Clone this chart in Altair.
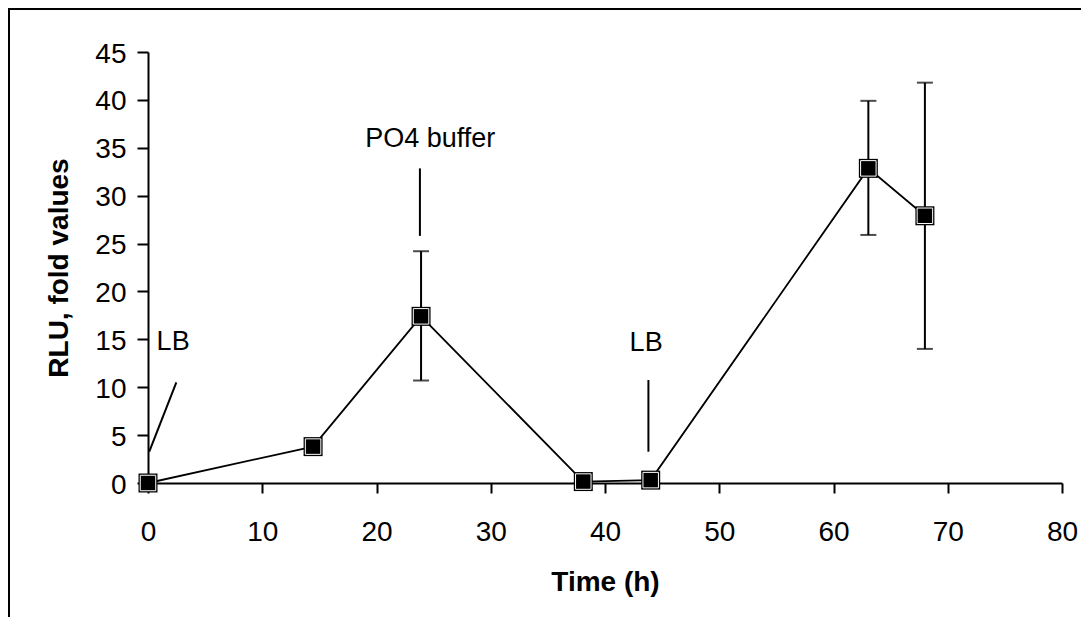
import altair as alt
import pandas as pd

# data
time_h = [0, 14.45, 23.9, 38.1, 44.0, 63.05, 68.0]
rlu = [0.0, 3.8, 17.4, 0.15, 0.3, 32.85, 27.9]
err_lo = [None, None, 10.7, None, None, 25.9, 14.0]
err_hi = [None, None, 24.2, None, None, 39.9, 41.8]

ann_text = ["LB", "PO4 buffer", "LB"]
ann_tx = [2.2, 24.7, 43.6]
ann_ty = [13.9, 35.1, 13.8]
ann_x1 = [2.48, 23.8, 43.8]
ann_y1 = [10.5, 32.85, 10.75]
ann_x2 = [0.11, 23.8, 43.8]
ann_y2 = [3.27, 25.8, 3.27]

x_ticks = list(range(0, 81, 10))
y_ticks = list(range(0, 46, 5))

W, H = 914, 431
FONT = "Liberation Sans"

df = pd.DataFrame({"t": time_h, "v": rlu})
df_err = pd.DataFrame({"t": time_h, "lo": err_lo, "hi": err_hi}).dropna()
df_ann = pd.DataFrame({"label": ann_text, "tx": ann_tx, "ty": ann_ty,
                       "x1": ann_x1, "y1": ann_y1, "x2": ann_x2, "y2": ann_y2})

xs = alt.Scale(domain=[0, 80], nice=False, zero=False)
ys = alt.Scale(domain=[0, 45], nice=False)

xaxis = alt.Axis(values=x_ticks, grid=False, title="Time (h)", labelFontSize=28,
                 labelFont=FONT, labelColor="black", labelPadding=47,
                 labelBaseline="alphabetic", labelFlush=False, labelOverlap=False,
                 tickSize=10, tickWidth=2,
                 tickColor="black", domainColor="black", domainWidth=2,
                 titleFont=FONT, titleFontSize=28, titleFontWeight="bold",
                 titleColor="black", titleX=W / 2, titleY=107,
                 titleBaseline="alphabetic", titleAlign="center")
yaxis = alt.Axis(values=y_ticks, grid=False, title="RLU, fold values", labelFontSize=28,
                 labelFont=FONT, labelColor="black", labelPadding=11,
                 labelFlush=False, labelOverlap=False, labelOffset=2,
                 tickSize=11, tickWidth=2, tickColor="black",
                 domainColor="black", domainWidth=2,
                 titleFont=FONT, titleFontSize=28, titleFontWeight="bold",
                 titleColor="black", titleX=-81, titleY=H / 2,
                 titleBaseline="alphabetic", titleAlign="center", titleAngle=270)

base = alt.Chart(df)

line = base.mark_line(color="black", strokeWidth=1.8).encode(
    x=alt.X("t:Q", scale=xs, axis=xaxis),
    y=alt.Y("v:Q", scale=ys, axis=yaxis),
)

err_rule = alt.Chart(df_err).mark_rule(color="black", strokeWidth=2).encode(
    x=alt.X("t:Q", scale=xs), y=alt.Y("lo:Q", scale=ys), y2="hi:Q")
cap_lo = alt.Chart(df_err).mark_tick(color="black", thickness=2, size=16,
                                     orient="horizontal").encode(
    x=alt.X("t:Q", scale=xs), y=alt.Y("lo:Q", scale=ys))
cap_hi = alt.Chart(df_err).mark_tick(color="black", thickness=2, size=16,
                                     orient="horizontal").encode(
    x=alt.X("t:Q", scale=xs), y=alt.Y("hi:Q", scale=ys))

pt_outer = base.mark_point(shape="square", filled=True, color="black",
                           size=361, opacity=1).encode(
    x=alt.X("t:Q", scale=xs), y=alt.Y("v:Q", scale=ys))
pt_inner = base.mark_point(shape="square", filled=True, fill="black",
                           stroke="white", strokeWidth=1, size=240,
                           opacity=1, strokeOpacity=1).encode(
    x=alt.X("t:Q", scale=xs), y=alt.Y("v:Q", scale=ys))

ann_rules = alt.Chart(df_ann).mark_rule(color="black", strokeWidth=2).encode(
    x=alt.X("x1:Q", scale=xs), y=alt.Y("y1:Q", scale=ys),
    x2="x2:Q", y2="y2:Q")
ann_labels = alt.Chart(df_ann).mark_text(font=FONT, fontSize=27, color="black",
                                         baseline="alphabetic", align="center").encode(
    x=alt.X("tx:Q", scale=xs), y=alt.Y("ty:Q", scale=ys), text="label:N")

frame = alt.Chart(alt.Data(values=[{"a": 1}])).mark_rect(
    filled=False, stroke="black", strokeWidth=2, fillOpacity=0).encode(
    x=alt.value(-139), y=alt.value(-43), x2=alt.value(1200), y2=alt.value(800))

chart = alt.layer(frame, line, err_rule, cap_lo, cap_hi, pt_outer, pt_inner,
                  ann_rules, ann_labels).properties(
    width=W, height=H,
    padding={"left": 140, "top": 44, "right": 19, "bottom": 134},
    autosize=alt.AutoSizeParams(type="none"),
    background="white",
).configure_view(stroke=None)

chart.save("out.html", embed_options={"renderer": "svg", "actions": False})
